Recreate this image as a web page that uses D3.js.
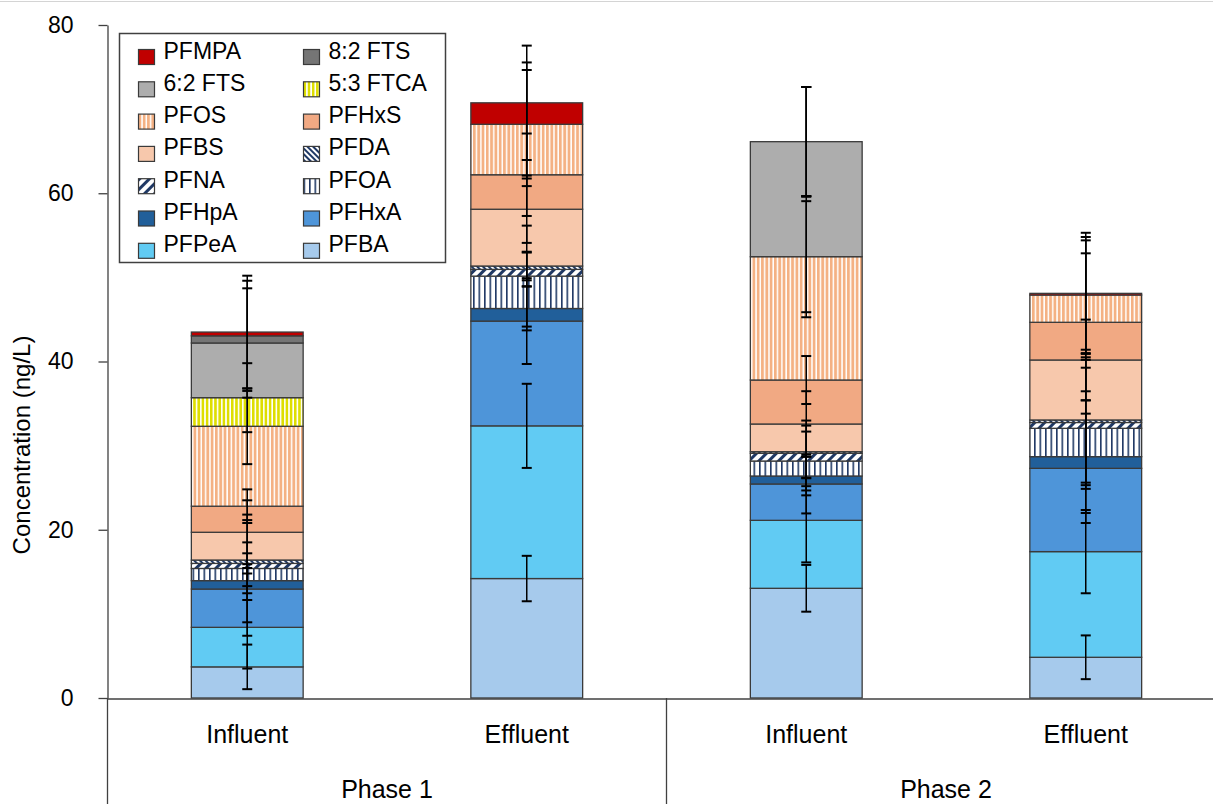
<!DOCTYPE html>
<meta charset="utf-8">
<style>
  body { margin: 0; background: #fff; }
  text { font-family: "Liberation Sans", Arial, sans-serif; fill: #000; }
</style>
<body>
<div id="chart"></div>
<script src="https://d3js.org/d3.v7.min.js"></script>
<script>
// stack order, bottom to top
var compounds = ["PFBA", "PFPeA", "PFHxA", "PFHpA", "PFOA", "PFNA", "PFDA",
  "PFBS", "PFHxS", "PFOS", "5:3 FTCA", "6:2 FTS", "8:2 FTS", "PFMPA"];

var sampleLabels = ["Influent", "Effluent", "Influent", "Effluent"];
var samplePhase = ["Phase 1", "Phase 1", "Phase 2", "Phase 2"];
var phases = ["Phase 1", "Phase 2"];
var yTicks = [0, 20, 40, 60, 80];

// concentrations (ng/L), same order as compounds
var p1Influent = [3.7, 4.7, 4.55, 1.0, 1.45, 0.6, 0.4, 3.3, 3.1, 9.5, 3.4, 6.5, 0.85, 0.45];
var p1Effluent = [14.2, 18.15, 12.45, 1.5, 3.85, 0.8, 0.4, 6.75, 4.1, 6.0, 0, 0, 0, 2.55];
var p2Influent = [13.04, 8.08, 4.32, 0.95, 1.78, 0.91, 0.2, 3.29, 5.23, 14.66, 0, 13.67, 0, 0];
var p2Effluent = [4.84, 12.56, 9.9, 1.39, 3.37, 0.69, 0.3, 7.13, 4.48, 3.24, 0, 0, 0, 0.2];

// error bar half-widths (ng/L)
var p1InfluentErr = [2.65, 4.9, 5.55, 1.5, 6.4, 1.2, 4.75, 3.8, 2.0, 4.5, 4.1, 6.5, 6.55, 6.7];
var p1EffluentErr = [2.7, 5.0, 5.1, 2.6, 6.0, 2.0, 1.7, 4.0, 4.9, 7.35, 6.45, 0, 0, 6.8];
var p2InfluentErr = [2.78, 5.0, 3.5, 2.3, 3.5, 3.9, 3.1, 3.9, 2.85, 6.6, 7.2, 6.5, 6.5, 6.5];
var p2EffluentErr = [2.6, 4.95, 6.5, 6.7, 7.2, 7.45, 7.45, 4.8, 8.2, 6.5, 0, 0, 6.9, 7.2];

var sampleValues = [p1Influent, p1Effluent, p2Influent, p2Effluent];
var sampleErrors = [p1InfluentErr, p1EffluentErr, p2InfluentErr, p2EffluentErr];

var W = 1213, H = 804;
var svg = d3.select("#chart").append("svg")
  .attr("width", W).attr("height", H);

var defs = svg.append("defs");

function stripes(id, size, stripeW, color, angle) {
  var p = defs.append("pattern")
    .attr("id", id)
    .attr("patternUnits", "userSpaceOnUse")
    .attr("width", size).attr("height", size);
  if (angle) p.attr("patternTransform", "rotate(" + angle + ")");
  p.append("rect").attr("width", size).attr("height", size).attr("fill", "#fff");
  p.append("rect").attr("width", stripeW).attr("height", size).attr("fill", color);
}
stripes("pOA", 5.5, 1.6, "#1F3864", 0);
stripes("pNA", 7, 3, "#1F3864", 45);
stripes("pDA", 4, 2, "#1F3864", -45);
stripes("pOS", 4.3, 2.8, "#F4B183", 0);
stripes("pFTCA", 4.2, 2.6, "#DEDE00", 0);

var fills = {
  "PFBA": "#A6CAEC", "PFPeA": "#61CBF3", "PFHxA": "#4E95D9", "PFHpA": "#215F9A",
  "PFOA": "url(#pOA)", "PFNA": "url(#pNA)", "PFDA": "url(#pDA)",
  "PFBS": "#F7C8AC", "PFHxS": "#F1A983", "PFOS": "url(#pOS)",
  "5:3 FTCA": "url(#pFTCA)", "6:2 FTS": "#ADADAD", "8:2 FTS": "#757575", "PFMPA": "#C00000"
};

// thin frame line at top
svg.append("line").attr("x1", 0).attr("x2", W).attr("y1", 1.5).attr("y2", 1.5)
  .attr("stroke", "#d4d4d4").attr("stroke-width", 1);

var y = d3.scaleLinear().domain([0, 80]).range([698, 25]);
var x = d3.scaleBand().domain(d3.range(sampleLabels.length))
  .range([107.5, 1225.5]).paddingInner(0.6).paddingOuter(0.3);
var xPhase = d3.scaleBand().domain(phases).range([107.5, 1225.5]);

var table = sampleValues.map(function(vals, i) {
  var row = { idx: i };
  compounds.forEach(function(c, k) { row[c] = vals[k]; });
  return row;
});
var series = d3.stack().keys(compounds)(table);

// bars
var layer = svg.append("g").selectAll("g")
  .data(series).enter().append("g")
  .attr("fill", function(s) { return fills[s.key]; });

layer.selectAll("rect")
  .data(function(s) { return s.filter(function(d) { return d[1] - d[0] > 0; }); })
  .enter().append("rect")
  .attr("x", function(d) { return x(d.data.idx); })
  .attr("width", x.bandwidth())
  .attr("y", function(d) { return y(d[1]); })
  .attr("height", function(d) { return y(d[0]) - y(d[1]); })
  .attr("stroke", "#3a3a3a")
  .attr("stroke-width", 1.3);

// error bars at the top of each segment
var errs = [];
series.forEach(function(s, k) {
  s.forEach(function(d) {
    var e = sampleErrors[d.data.idx][k];
    if (e > 0) errs.push({ idx: d.data.idx, top: d[1], err: e });
  });
});

var eg = svg.append("g").attr("stroke", "#000");
var cx = function(d) { return x(d.idx) + x.bandwidth() / 2; };
eg.selectAll(".ebar").data(errs).enter().append("line")
  .attr("class", "ebar")
  .attr("x1", cx).attr("x2", cx)
  .attr("y1", function(d) { return y(d.top + d.err); })
  .attr("y2", function(d) { return y(d.top - d.err); })
  .attr("stroke-width", 1.5);
["hi", "lo"].forEach(function(side) {
  eg.selectAll(".cap-" + side).data(errs).enter().append("line")
    .attr("class", "cap-" + side)
    .attr("x1", function(d) { return cx(d) - 5; })
    .attr("x2", function(d) { return cx(d) + 5; })
    .attr("y1", function(d) { return y(side == "hi" ? d.top + d.err : d.top - d.err); })
    .attr("y2", function(d) { return y(side == "hi" ? d.top + d.err : d.top - d.err); })
    .attr("stroke-width", 2);
});

// y axis
var yAxis = d3.axisLeft(y).tickValues(yTicks).tickSize(9).tickSizeOuter(0).tickPadding(25);
var ya = svg.append("g").attr("transform", "translate(107.5,0)").call(yAxis);
ya.select(".domain").attr("stroke", "#404040").attr("stroke-width", 1.3);
ya.selectAll(".tick line").attr("stroke", "#404040").attr("stroke-width", 1.3);
ya.selectAll(".tick text")
  .style("font-family", "'Liberation Sans', Arial, sans-serif")
  .style("font-size", "23px").attr("fill", "#000");

svg.append("text")
  .attr("transform", "translate(30,445) rotate(-90)")
  .attr("text-anchor", "middle")
  .style("font-size", "24px")
  .text("Concentration (ng/L)");

// category axis
var xAxis = d3.axisBottom(x).tickSize(0).tickSizeOuter(0).tickPadding(27)
  .tickFormat(function(i) { return sampleLabels[i]; });
var xa = svg.append("g").attr("transform", "translate(0,698.5)").call(xAxis);
xa.select(".domain").attr("stroke", "#404040").attr("stroke-width", 1.3);
xa.selectAll(".tick text")
  .style("font-family", "'Liberation Sans', Arial, sans-serif")
  .style("font-size", "25px").attr("fill", "#000");

// phase level
var sepX = [xPhase.range()[0]];
phases.forEach(function(p) { sepX.push(xPhase(p) + xPhase.bandwidth()); });
svg.append("g").selectAll("line").data(sepX).enter().append("line")
  .attr("x1", function(d) { return d; }).attr("x2", function(d) { return d; })
  .attr("y1", 698).attr("y2", H)
  .attr("stroke", "#404040").attr("stroke-width", 1.3);

svg.append("g").selectAll("text").data(phases).enter().append("text")
  .attr("x", function(p) { return xPhase(p) + xPhase.bandwidth() / 2; })
  .attr("y", 798)
  .attr("text-anchor", "middle")
  .style("font-size", "25px")
  .text(function(p) { return p; });

// legend
var legendItems = compounds.slice().reverse();
var lg = svg.append("g");
lg.append("rect").attr("x", 119.5).attr("y", 33.5).attr("width", 326).attr("height", 229)
  .attr("fill", "#fff").attr("stroke", "#404040").attr("stroke-width", 1.5);
var item = lg.selectAll(".item").data(legendItems).enter().append("g")
  .attr("class", "item")
  .attr("transform", function(d, i) {
    var col = i % 2, row = Math.floor(i / 2);
    return "translate(" + (col == 0 ? 138.5 : 303.5) + "," + (58.5 + row * 32.3) + ")";
  });
item.append("rect")
  .attr("x", 0).attr("y", -9).attr("width", 16).attr("height", 15)
  .attr("fill", function(d) { return fills[d]; })
  .attr("stroke", "#3a3a3a").attr("stroke-width", 1.2);
item.append("text")
  .attr("x", 25).attr("y", 0)
  .style("font-size", "23px")
  .text(function(d) { return d; });
</script>
</body>
